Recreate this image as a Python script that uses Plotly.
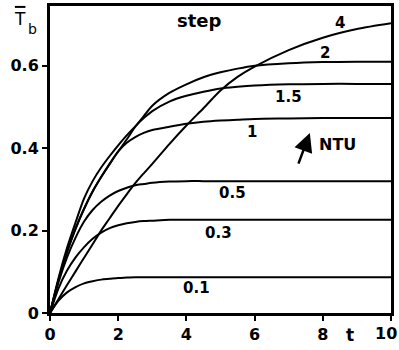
import plotly.graph_objects as go

# Dimensionless time
t = [0, 0.25, 0.5, 0.75, 1, 1.25, 1.5, 1.75, 2, 2.25, 2.5, 2.75, 3,
     3.5, 4, 4.5, 5, 5.5, 6, 7, 8, 9, 10]

# Mean bulk temperature response to a step input, one curve per NTU
tb_ntu_01 = [0, .030, .050, .063, .072, .077, .081, .083, .085, .086, .087, .087, .087,
             .087, .087, .087, .087, .087, .087, .087, .087, .087, .087]
tb_ntu_03 = [0, .060, .103, .135, .160, .180, .195, .206, .213, .218, .221, .223, .224,
             .226, .226, .226, .226, .226, .226, .226, .226, .226, .226]
tb_ntu_05 = [0, .075, .135, .183, .222, .250, .270, .285, .296, .304, .310, .313, .316,
             .319, .320, .320, .320, .320, .320, .320, .320, .320, .320]
tb_ntu_1 = [0, .080, .148, .205, .253, .295, .330, .362, .392, .413, .427, .437, .444,
            .452, .459, .464, .467, .469, .471, .472, .473, .473, .473]
tb_ntu_15 = [0, .085, .158, .220, .278, .320, .353, .381, .407, .431, .453, .473, .490,
             .513, .527, .537, .545, .549, .552, .555, .556, .556, .556]
tb_ntu_2 = [0, .080, .148, .205, .253, .295, .330, .362, .392, .421, .452, .478, .503,
            .534, .555, .572, .584, .593, .600, .606, .609, .610, .610]
tb_ntu_4 = [0, .034, .068, .101, .134, .167, .200, .230, .260, .288, .315, .339, .362,
            .410, .455, .497, .540, .573, .598, .638, .668, .689, .703]

series = [tb_ntu_01, tb_ntu_03, tb_ntu_05, tb_ntu_1, tb_ntu_15, tb_ntu_2, tb_ntu_4]

# Curve labels and where they sit (t, Tb)
label_text = ["0.1", "0.3", "0.5", "1", "1.5", "2", "4"]
label_t = [4.31, 4.93, 5.34, 5.92, 6.98, 8.07, 8.5]
label_y = [0.060, 0.194, 0.291, 0.439, 0.524, 0.631, 0.704]

x_ticks = [0, 2, 4, 6, 8, 10]
x_tick_text = ["0", "2", "4", "6", "8", "10"]
y_ticks = [0, 0.2, 0.4, 0.6]

FONT = "DejaVu Sans, Verdana, sans-serif"


def label(x, y, text, size, xref="x", yref="y", weight="bold", xshift=0):
    fig.add_annotation(x=x, y=y, xref=xref, yref=yref, text=text,
                       showarrow=False, xanchor="center", yanchor="middle",
                       xshift=xshift,
                       font=dict(family=FONT, size=size, color="black", weight=weight))


fig = go.Figure()
for ys in series:
    fig.add_trace(go.Scatter(
        x=t, y=ys, mode="lines",
        line=dict(color="black", width=2, shape="spline", smoothing=0.8),
        showlegend=False, hoverinfo="skip",
    ))

for txt, lx, ly in zip(label_text, label_t, label_y):
    label(lx, ly, txt, 15)

label(4.37, 0.709, "step", 18)

# NTU direction arrow
fig.add_annotation(x=7.62, y=0.437, ax=7.27, ay=0.359, axref="x", ayref="y",
                   xref="x", yref="y", text="", showarrow=True,
                   arrowhead=2, arrowsize=1.5, arrowwidth=2.5, arrowcolor="black")
label(8.42, 0.408, "NTU", 16)

# Axis titles
label(8.8, -0.072, "t", 17, yref="paper")
label(-0.088, 0.958, "T", 17, xref="paper", yref="paper", weight="normal")
label(-0.052, 0.926, "b", 14, xref="paper", yref="paper", weight="normal")
fig.add_shape(type="line", xref="paper", yref="paper",
              x0=-0.103, x1=-0.072, y0=0.997, y1=0.997,
              line=dict(color="black", width=2))

# The last x tick label sits against the right page edge, so it is nudged inward
tick_text_drawn = x_tick_text[:-1] + [""]
label(x_ticks[-1], -0.066, x_tick_text[-1], 16, yref="paper", xshift=-5)

axis_style = dict(ticks="outside", ticklen=5, tickwidth=1.5, tickcolor="black",
                  showline=True, linewidth=3, linecolor="black", mirror=True,
                  showgrid=False, zeroline=False, automargin=False,
                  tickfont=dict(family=FONT, size=16, color="black", weight="bold"))
fig.update_xaxes(range=[0, 10], tickvals=x_ticks, ticktext=tick_text_drawn, **axis_style)
fig.update_yaxes(range=[0, 0.745], tickvals=y_ticks, **axis_style)

fig.update_layout(width=399, height=350, margin=dict(l=50, r=8, t=6, b=37),
                  plot_bgcolor="white", paper_bgcolor="white")

fig.write_html("out.html")
